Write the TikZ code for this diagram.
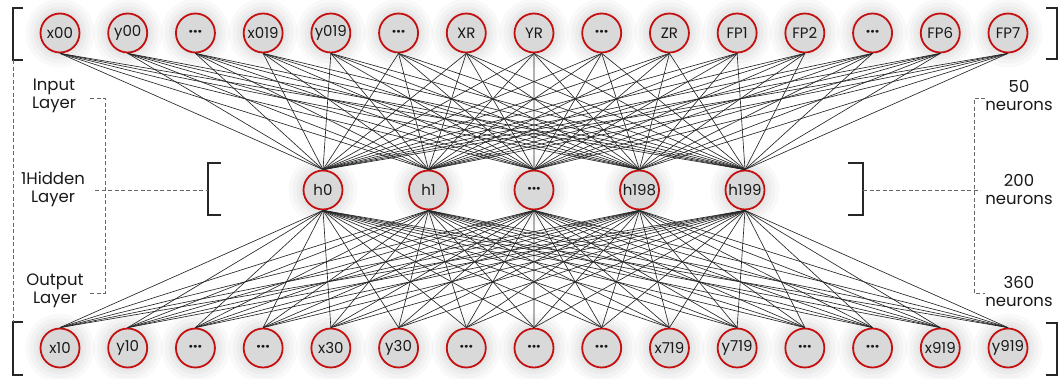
\documentclass[tikz,border=0pt]{standalone}
\usepackage{fontspec}
\setmainfont{Poppins}
\definecolor{nred}{HTML}{C41010}
\definecolor{ngray}{HTML}{D9D9D9}
\newcommand{\ndots}{\textbf{···}}
\begin{document}
\begin{tikzpicture}[x=1pt,y=-1pt,
  neuron/.style={circle, draw=nred, line width=1.8pt, fill=ngray, minimum size=39pt, inner sep=0pt,
    font=\fontsize{15}{15}\selectfont, text=black!90,
    preaction={draw=black, draw opacity=0.022, line width=30pt},
    preaction={draw=black, draw opacity=0.022, line width=22pt},
    preaction={draw=black, draw opacity=0.028, line width=14pt},
    preaction={draw=black, draw opacity=0.028, line width=7pt}},
  conn/.style={draw=black!85, line width=0.65pt},
  brk/.style={draw=black!85, line width=1.3pt},
  dbrk/.style={draw=black!60, dash pattern=on 4pt off 2.5pt, line width=0.9pt},
  lbl/.style={align=center, font=\fontsize{16.5}{18}\selectfont, text=black!90, inner sep=0pt}]
\useasboundingbox (0,0) rectangle (1058,378);
% input layer
\foreach \lab [count=\i from 0] in {x00,y00,\ndots,x019,y019,\ndots,XR,YR,\ndots,ZR,FP1,FP2,\ndots,FP6,FP7}
  \node[neuron] (t\i) at ({60+67.714*\i},33) {\lab};
% output layer
\foreach \lab [count=\i from 0] in {x10,y10,\ndots,\ndots,x30,y30,\ndots,\ndots,\ndots,x719,y719,\ndots,\ndots,x919,y919}
  \node[neuron] (b\i) at ({60+67.714*\i},348) {\lab};
% hidden layer
\foreach \lab [count=\i from 0] in {h0,h1,\ndots,h198,h199}
  \node[neuron] (h\i) at ({323+105.5*\i},190) {\lab};
% connectors
\foreach \i in {0,...,14}
  \foreach \j in {0,...,4} {
    \draw[conn] (t\i.south) -- (h\j.north);
    \draw[conn] (b\i.north) -- (h\j.south);
  }
% left brackets
\coordinate (lt1) at (23,8); \coordinate (lt2) at (13,8); \coordinate (lt3) at (13,60); \coordinate (lt4) at (23,60);
\coordinate (lb1) at (23,322); \coordinate (lb2) at (13,322); \coordinate (lb3) at (13,375); \coordinate (lb4) at (23,375);
\draw[brk] (lt1) -- (lt2) -- (lt3) -- (lt4);
\draw[brk] (lb1) -- (lb2) -- (lb3) -- (lb4);
\draw[dbrk] (lt3) -- (lb2);
\coordinate (li1) at (90,98); \coordinate (li2) at (105,98); \coordinate (li3) at (105,293); \coordinate (li4) at (90,293);
\draw[dbrk] (li1) -- (li2) -- (li3) -- (li4);
\coordinate (hl1) at (221,163); \coordinate (hl2) at (208,163); \coordinate (hl3) at (208,215); \coordinate (hl4) at (221,215);
\coordinate (hlm) at (208,190); \coordinate (hld) at (95,190);
\draw[brk] (hl1) -- (hl2) -- (hl3) -- (hl4);
\draw[dbrk] (hld) -- (hlm);
% right brackets
\coordinate (rt1) at (1046,8); \coordinate (rt2) at (1057,8); \coordinate (rt3) at (1057,59); \coordinate (rt4) at (1046,59);
\coordinate (rb1) at (1046,323); \coordinate (rb2) at (1057,323); \coordinate (rb3) at (1057,375); \coordinate (rb4) at (1046,375);
\draw[brk] (rt1) -- (rt2) -- (rt3) -- (rt4);
\draw[brk] (rb1) -- (rb2) -- (rb3) -- (rb4);
\coordinate (ri1) at (985,98); \coordinate (ri2) at (974,98); \coordinate (ri3) at (974,293); \coordinate (ri4) at (985,293);
\draw[dbrk] (ri1) -- (ri2) -- (ri3) -- (ri4);
\coordinate (hr1) at (848,163); \coordinate (hr2) at (863,163); \coordinate (hr3) at (863,215); \coordinate (hr4) at (848,215);
\coordinate (hrm) at (863,190); \coordinate (hrd) at (980,190);
\draw[brk] (hr1) -- (hr2) -- (hr3) -- (hr4);
\draw[dbrk] (hrm) -- (hrd);
% labels
\node[lbl] (linput) at (54,96) {Input\\Layer};
\node[lbl] (lhidden) at (53,189) {1Hidden\\Layer};
\node[lbl] (loutput) at (55,291) {Output\\Layer};
\node[lbl] (r50) at (1019,96) {50\\neurons};
\node[lbl] (r200) at (1019,189) {200\\neurons};
\node[lbl] (r360) at (1019,291) {360\\neurons};
\end{tikzpicture}
\end{document}
